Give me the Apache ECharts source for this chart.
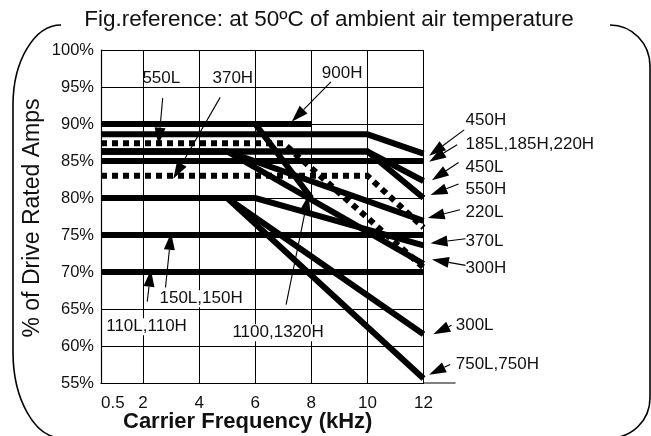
<!DOCTYPE html>
<html>
<head>
<meta charset="utf-8">
<script src="https://cdn.jsdelivr.net/npm/echarts@6/dist/echarts.min.js"></script>
<style>
  html, body { margin: 0; padding: 0; background: #fff; }
  #chart { width: 651px; height: 436px; }
</style>
</head>
<body>
<div id="chart"></div>
<script>
// Carrier frequency (kHz) ticks and percentage ticks
const freqTicks = [0.5, 2, 4, 6, 8, 10, 12];
const pctTicks = [55, 60, 65, 70, 75, 80, 85, 90, 95, 100];

// Derating curves: [kHz, % of rated current]
const s900H       = [[0.5, 90], [8, 90]];
const s1100_1320H = [[0.5, 90], [6, 90], [8, 80]];
const s450H       = [[0.5, 88.6], [10, 88.6], [12, 86]];
const s550L       = [[0.5, 87.4], [7, 87.4], [12, 70.6]];
const s450L       = [[0.5, 86.3], [10, 86.3], [12, 82.3]];
const s550H       = [[0.5, 86.3], [10, 86.3], [12, 80]];
const s185_220H   = [[0.5, 85], [12, 85]];
const s370H       = [[0.5, 83], [10, 83], [12, 76]];
const s220L       = [[0.5, 86.3], [5, 86.3], [12, 76.9]];
const s370L       = [[0.5, 80], [6, 80], [12, 73.6]];
const s300H       = [[0.5, 86.3], [5, 86.3], [12, 71.1]];
const s150        = [[0.5, 75], [12, 75]];
const s110        = [[0.5, 70], [12, 70]];
const s300L       = [[0.5, 80], [5, 80], [12, 61.6]];
const s750        = [[0.5, 80], [5, 80], [12, 55.6]];

// Callouts: label text, label anchor [kHz, %], arrow tail [kHz, %], arrow tip [kHz, %], label alignment
const callouts = [
  { text: '550L',           at: [2.65, 96.2],  tail: [2.7, 93.5],   tip: [2.55, 87.2], align: 'center' },
  { text: '370H',           at: [5.2, 96.2],   tail: [4.75, 93.6],  tip: [3.08, 82.6], align: 'center' },
  { text: '900H',           at: [9.1, 96.9],   tail: [8.7, 95.7],   tip: [7.3, 90.3],  align: 'center' },
  { text: '150L,150H',      at: [2.55, 66.4],  tail: [2.8, 67.9],   tip: [3.0, 75.3],  align: 'left' },
  { text: '110L,110H',      at: [0.65, 62.6],  tail: [2.15, 66.0],  tip: [2.28, 70.3], align: 'left' },
  { text: '1100,1320H',     at: [5.15, 61.8],  tail: [7.1, 65.6],   tip: [7.9, 80.4],  align: 'left' },
  { text: '450H',           at: [13.5, 90.5],  tail: [13.45, 89.2], tip: [12.2, 85.7], align: 'left' },
  { text: '185L,185H,220H', at: [13.5, 87.2],  tail: [13.2, 87.2],  tip: [12.2, 84.9], align: 'left' },
  { text: '450L',           at: [13.5, 84.2],  tail: [13.25, 84.8], tip: [12.3, 82.4], align: 'left' },
  { text: '550H',           at: [13.5, 81.2],  tail: [13.25, 81.9], tip: [12.25, 80.4], align: 'left' },
  { text: '220L',           at: [13.5, 78.1],  tail: [13.3, 78.4],  tip: [12.15, 77.3], align: 'left' },
  { text: '370L',           at: [13.5, 74.1],  tail: [13.5, 74.5],  tip: [12.25, 73.9], align: 'left' },
  { text: '300H',           at: [13.5, 70.5],  tail: [13.5, 70.9],  tip: [12.3, 71.7],  align: 'left' },
  { text: '300L',           at: [13.15, 62.8], tail: [13.0, 62.8],  tip: [12.35, 61.6], align: 'left' },
  { text: '750L,750H',      at: [13.15, 57.5], tail: [12.95, 57.5], tip: [12.2, 56.1],  align: 'left' }
];

const FONT = '"Liberation Sans", Arial, Helvetica, sans-serif';
const chart = echarts.init(document.getElementById('chart'), null, { renderer: 'canvas' });

function curve(name, data, dotted) {
  return {
    name: name,
    type: 'line',
    data: data,
    symbol: 'none',
    silent: true,
    animation: false,
    clip: false,
    z: 3,
    lineStyle: {
      color: '#000',
      width: 6,
      type: dotted ? [6, 5] : 'solid',
      cap: 'butt',
      join: 'miter'
    }
  };
}

// Vertical and horizontal grid rules drawn at the tick values
const gridRules = {
  type: 'line',
  data: [],
  silent: true,
  animation: false,
  markLine: {
    silent: true,
    symbol: 'none',
    animation: false,
    label: { show: false },
    lineStyle: { color: '#000', width: 1, type: 'solid' },
    data: freqTicks.slice(1).map(v => ({ xAxis: v }))
      .concat(pctTicks.slice(1).map(v => ({ yAxis: v })))
  }
};

chart.setOption({
  animation: false,
  backgroundColor: '#fff',
  grid: { left: 101, right: 227.5, top: 50, bottom: 53 },
  xAxis: {
    type: 'value',
    min: 0.5,
    max: 12,
    axisLine: { show: true, lineStyle: { color: '#000', width: 1.2 } },
    axisTick: { show: false },
    splitLine: { show: false },
    axisLabel: {
      customValues: freqTicks,
      formatter: v => String(v),
      fontFamily: FONT,
      fontSize: 17,
      color: '#111',
      margin: 12,
      alignMinLabel: 'left'
    }
  },
  yAxis: {
    type: 'value',
    min: 55,
    max: 100,
    interval: 5,
    axisLine: { show: true, lineStyle: { color: '#000', width: 1.2 } },
    axisTick: { show: false },
    splitLine: { show: false },
    axisLabel: {
      formatter: '{value}%',
      fontFamily: FONT,
      fontSize: 16.5,
      color: '#111',
      margin: 7
    }
  },
  series: [
    gridRules,
    curve('900H', s900H),
    curve('1100,1320H', s1100_1320H),
    curve('450H', s450H),
    curve('550L', s550L, true),
    curve('450L', s450L),
    curve('550H', s550H),
    curve('185L,185H,220H', s185_220H),
    curve('370H', s370H, true),
    curve('220L', s220L),
    curve('370L', s370L),
    curve('300H', s300H),
    curve('150L,150H', s150),
    curve('110L,110H', s110),
    curve('300L', s300L),
    curve('750L,750H', s750)
  ]
});

function px(p) { return chart.convertToPixel({ gridIndex: 0 }, p); }

function arrow(tail, tip) {
  const a = px(tail), b = px(tip);
  const dx = b[0] - a[0], dy = b[1] - a[1];
  const len = Math.sqrt(dx * dx + dy * dy);
  const ux = dx / len, uy = dy / len;
  const headLen = 17, headHalf = 5.5;
  const bx = b[0] - ux * headLen, by = b[1] - uy * headLen;
  return [
    { type: 'line', silent: true, z: 10,
      shape: { x1: a[0], y1: a[1], x2: bx, y2: by },
      style: { stroke: '#000', lineWidth: 1.1 } },
    { type: 'polygon', silent: true, z: 10,
      shape: { points: [[b[0], b[1]], [bx - uy * headHalf, by + ux * headHalf], [bx + uy * headHalf, by - ux * headHalf]] },
      style: { fill: '#000' } }
  ];
}

// quarter-ellipse corner as a cubic curve
const K = 0.5523;
function corner(x1, y1, x2, y2, startHorizontal) {
  const shape = startHorizontal
    ? { x1: x1, y1: y1, x2: x2, y2: y2, cpx1: x1 + (x2 - x1) * K, cpy1: y1, cpx2: x2, cpy2: y2 - (y2 - y1) * K }
    : { x1: x1, y1: y1, x2: x2, y2: y2, cpx1: x1, cpy1: y1 + (y2 - y1) * K, cpx2: x2 - (x2 - x1) * K, cpy2: y2 };
  return { type: 'bezierCurve', silent: true, shape: shape, style: { stroke: '#000', lineWidth: 1.6, fill: null } };
}
function rule(x1, y1, x2, y2, w) {
  return { type: 'line', silent: true, shape: { x1: x1, y1: y1, x2: x2, y2: y2 }, style: { stroke: '#000', lineWidth: w || 1.6 } };
}

const elements = [];

// rounded frame broken at the top by the heading
elements.push(corner(61, 25, 13, 105, true));
elements.push(rule(13, 105, 13, 352));
elements.push(corner(13, 352, 62, 438, false));
elements.push(rule(62, 438, 610, 438));
elements.push(corner(610, 438, 650, 398, true));
elements.push(rule(650, 398, 650, 66));
elements.push(corner(650, 66, 610, 25, false));

elements.push({
  type: 'text', silent: true,
  style: { text: 'Fig.reference: at 50\u00BAC of ambient air temperature', x: 329, y: 20,
           align: 'center', verticalAlign: 'middle', font: '22.5px ' + FONT, fill: '#111' }
});

elements.push({
  type: 'text', silent: true, rotation: Math.PI / 2, x: 33, y: 218,
  style: { text: '% of Drive Rated Amps', x: 0, y: 0,
           align: 'center', verticalAlign: 'middle', font: '23px ' + FONT, fill: '#111' }
});

elements.push({
  type: 'text', silent: true,
  style: { text: 'Carrier Frequency (kHz)', x: 123, y: 422,
           align: 'left', verticalAlign: 'middle', font: 'bold 22px ' + FONT, fill: '#111' }
});

// bottom rule runs a little past the last tick
const e12 = px([12, 55]);
elements.push(rule(e12[0], e12[1], e12[0] + 32, e12[1], 1.2));

callouts.forEach(c => {
  const p = px(c.at);
  const inside = c.align === 'left' && c.at[0] < 12;
  elements.push({
    type: 'text', silent: true, z: 11,
    style: { text: c.text, x: p[0], y: p[1], align: c.align, verticalAlign: 'middle',
             font: '17px ' + FONT, fill: '#111',
             backgroundColor: inside ? '#fff' : null, padding: inside ? [0, 1] : 0 }
  });
  arrow(c.tail, c.tip).forEach(e => elements.push(e));
});

chart.setOption({ graphic: { elements: elements } });
</script>
</body>
</html>
